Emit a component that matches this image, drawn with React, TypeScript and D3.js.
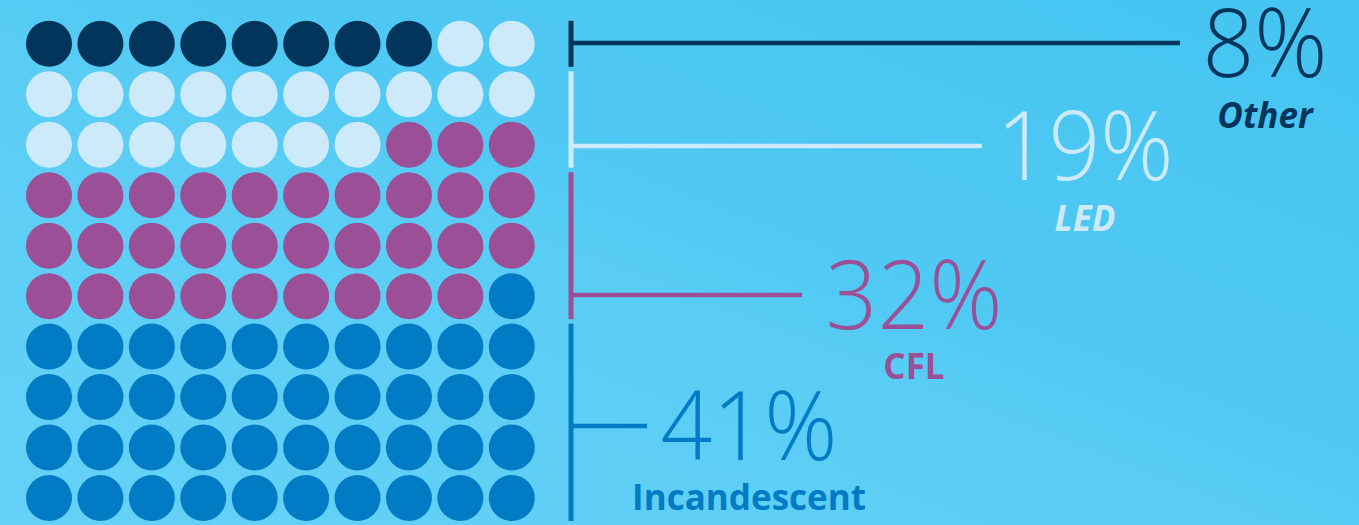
import React from "react";
import * as d3 from "d3";

// ---- data ----
const categories = ["Incandescent", "CFL", "LED", "Other"];
const shares = [41, 32, 19, 8];
const valueLabels = ["41%", "32%", "19%", "8%"];

// ---- layout / style (not data) ----
const colors = ["#007bc4", "#9b4f96", "#cdeafb", "#01355b"];
const italic = [false, false, true, true];
const lineEndX = [647, 802, 982, 1180];
const textCenterX = [749, 914, 1085, 1265];
const numberBaseline = [460, 329, 180, 77];
const labelBaseline = [510, 379, 231, 128];

const W = 1359;
const H = 525;
const COLS = 10;
const ROWS = 10;

export default function App() {
  const x = d3.scaleLinear().domain([0, COLS - 1]).range([49, 511.8]);
  const y = d3.scaleLinear().domain([0, ROWS - 1]).range([43.8, 498]);
  const r = 23;
  const rowHalf = 23;
  const barX = 571;

  // fill from bottom-right, going leftwards, row by row upwards
  const cum = d3.cumsum(shares);
  const starts = shares.map((s, i) => cum[i] - s);
  const cells: { cx: number; cy: number; c: number }[] = [];
  for (let i = 0; i < COLS * ROWS; i++) {
    const rowFromBottom = Math.floor(i / COLS);
    const colFromRight = i % COLS;
    const cat = cum.findIndex((c) => i < c);
    cells.push({
      cx: x(COLS - 1 - colFromRight),
      cy: y(ROWS - 1 - rowFromBottom),
      c: cat,
    });
  }

  const digitHalf = 34;
  const sx = 0.955;

  return (
    <svg width={W} height={H} style={{ position: "absolute", left: 0, top: 0 }}>
      <defs>
        <linearGradient id="bg" x1="0" y1="1" x2="1" y2="0">
          <stop offset="0" stopColor="#66d1f7" />
          <stop offset="0.45" stopColor="#5acdf5" />
          <stop offset="0.55" stopColor="#50c9f3" />
          <stop offset="1" stopColor="#45c4f1" />
        </linearGradient>
      </defs>
      <rect x={0} y={0} width={W} height={H} fill="url(#bg)" />
      {cells.map((d, i) => (
        <circle key={i} cx={d.cx} cy={d.cy} r={r} fill={colors[d.c]} />
      ))}
      {categories.map((name, i) => {
        const topRow = ROWS - Math.round(cum[i] / COLS);
        const bottomRow = ROWS - 1 - Math.round(starts[i] / COLS);
        const y0 = y(topRow) - rowHalf;
        const y1 = y(bottomRow) + rowHalf;
        const ly = numberBaseline[i] - digitHalf;
        return (
          <g key={name}>
            <rect x={barX - 2.5} y={y0} width={5} height={y1 - y0} fill={colors[i]} />
            <line x1={barX} x2={lineEndX[i]} y1={ly} y2={ly} stroke={colors[i]} strokeWidth={4.5} />
            <g transform={`translate(${textCenterX[i]},${numberBaseline[i]}) scale(${sx},1)`}>
              <text
                x={0}
                y={0}
                textAnchor="middle"
                fill={colors[i]}
                style={{ fontFamily: "'Open Sans', sans-serif", fontWeight: 300, fontSize: 95 }}
              >
                {valueLabels[i]}
              </text>
            </g>
            <text
              x={textCenterX[i]}
              y={labelBaseline[i]}
              textAnchor="middle"
              fill={colors[i]}
              style={{
                fontFamily: "'Open Sans', sans-serif",
                fontWeight: 700,
                fontStyle: italic[i] ? "italic" : "normal",
                fontSize: 35,
              }}
            >
              {name}
            </text>
          </g>
        );
      })}
    </svg>
  );
}
